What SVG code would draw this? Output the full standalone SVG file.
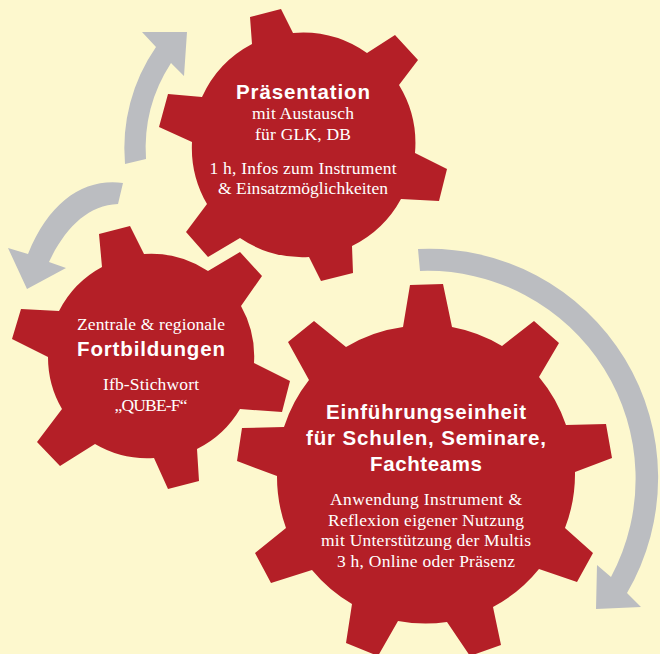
<svg xmlns="http://www.w3.org/2000/svg" width="660" height="654" viewBox="0 0 660 654">
<style>
.gear{fill:#b41f27}
.arrow{fill:#bbbdc1}
text{fill:#fff;text-anchor:middle}
.h{font-family:"Liberation Sans",Arial,sans-serif;font-weight:700;font-size:20.5px}
.b{font-family:"Liberation Serif","Times New Roman",serif;font-size:17.5px}
</style>
<rect width="660" height="654" fill="#fdf8ce"/>
<g id="connectors">
<path class="arrow" d="M125 164A178 178 0 0 1 156 47L142 32H187L184 76L171 63A157 157 0 0 0 146 159Z"/>
<path class="arrow" d="M123 183C85 178 50 200 28 254L8 248L27 289L66 268L49 262C65 228 88 205 118 204Z"/>
<path class="arrow" d="M418 249A229 229 0 0 1 627 593L641 607L596 609L597 565L611 577A208 208 0 0 0 420 271Z"/>
</g>
<g id="gear-praesentation">
<path class="gear" d="M250 17L281 9L293 33A112 112 0 0 1 367 53L395 35L418 60L399 85A112 112 0 0 1 415 153L447 169L439 201L401 199A112 112 0 0 1 352 246L353 273L321 281L309 257A112 112 0 0 1 240 238L208 257L186 232L207 204A112 112 0 0 1 192 142L159 127L168 94L202 97A112 112 0 0 1 252 44Z"/>
<text class="h" x="303" y="99" textLength="134">Präsentation</text>
<text class="b" x="303" y="119" textLength="102">mit Austausch</text>
<text class="b" x="303" y="140" textLength="96">für GLK, DB</text>
<text class="b" x="303" y="174" textLength="187">1 h, Infos zum Instrument</text>
<text class="b" x="303" y="194" textLength="170">&amp; Einsatzmöglichkeiten</text>
</g>
<g id="gear-fortbildungen">
<path class="gear" d="M99 234L130 226L144 254A103 103 0 0 1 208 271L240 252L262 276L241 306A103 103 0 0 1 254 363L290 381L282 412L240 409A103 103 0 0 1 197 449L199 481L168 489L154 458A103 103 0 0 1 95 444L60 466L37 442L62 409A103 103 0 0 1 48 357L12 339L21 309L59 311A103 103 0 0 1 102 267Z"/>
<text class="b" x="151" y="330" textLength="148">Zentrale &amp; regionale</text>
<text class="h" x="151" y="356" textLength="148">Fortbildungen</text>
<text class="b" x="151" y="390" textLength="96">Ifb-Stichwort</text>
<text class="b" x="151" y="411" textLength="73">„QUBE-F“</text>
</g>
<g id="gear-einfuehrungseinheit">
<path class="gear" d="M403 327L410 285L443 284L452 327A150 150 0 0 1 502 346L534 321L559 343L539 377A150 150 0 0 1 566 425L606 424L612 458L575 472A150 150 0 0 1 565 528L593 553L577 582L539 569A150 150 0 0 1 493 607L501 645L470 656L447 622A150 150 0 0 1 398 621L378 656L346 643L352 604A150 150 0 0 1 312 570L271 583L255 553L286 528A150 150 0 0 1 277 476L237 461L242 428L284 427A150 150 0 0 1 309 380L288 342L314 321L346 347A150 150 0 0 1 403 327Z"/>
<text class="h" x="426" y="419" textLength="200">Einführungseinheit</text>
<text class="h" x="426" y="445" textLength="240">für Schulen, Seminare,</text>
<text class="h" x="426" y="471" textLength="112">Fachteams</text>
<text class="b" x="426" y="505" textLength="192">Anwendung Instrument &amp;</text>
<text class="b" x="426" y="526" textLength="196">Reflexion eigener Nutzung</text>
<text class="b" x="426" y="546" textLength="210">mit Unterstützung der Multis</text>
<text class="b" x="426" y="567" textLength="178">3 h, Online oder Präsenz</text>
</g>
</svg>
